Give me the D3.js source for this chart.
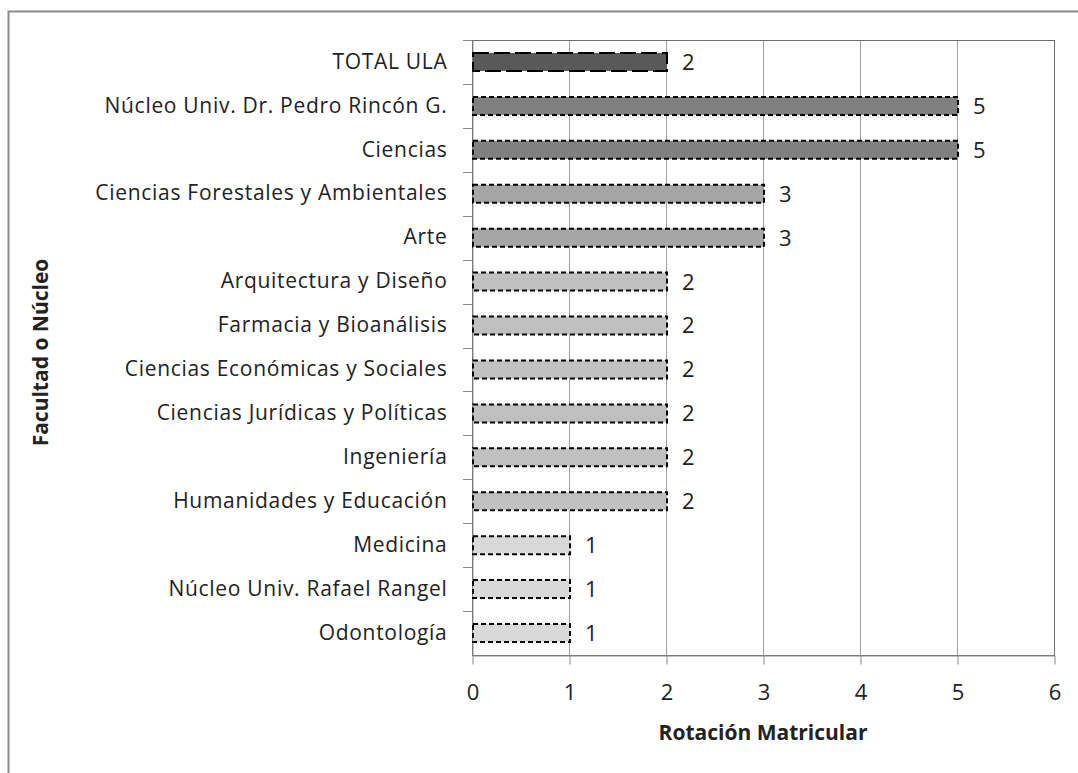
<!DOCTYPE html>
<html>
<head>
<meta charset="utf-8">
<script src="https://cdn.jsdelivr.net/npm/d3@7"></script>
<style>
  body { margin: 0; background: #fff; }
  text { font-family: "Open Sans", "Liberation Sans", sans-serif; fill: #222; }
</style>
</head>
<body>
<div class="chart"></div>
<script>
var svgWidth = 1078;
var svgHeight = 773;

// Data
var categories = [
  "TOTAL ULA",
  "Núcleo Univ. Dr. Pedro Rincón G.",
  "Ciencias",
  "Ciencias Forestales y Ambientales",
  "Arte",
  "Arquitectura y Diseño",
  "Farmacia y Bioanálisis",
  "Ciencias Económicas y Sociales",
  "Ciencias Jurídicas y Políticas",
  "Ingeniería",
  "Humanidades y Educación",
  "Medicina",
  "Núcleo Univ. Rafael Rangel",
  "Odontología"
];
var values = [2, 5, 5, 3, 3, 2, 2, 2, 2, 2, 2, 1, 1, 1];
var xTicks = [0, 1, 2, 3, 4, 5, 6];

var margin = { top: 40, right: 24, bottom: 118, left: 472 };
var width = 1054 - margin.left;
var height = 655 - margin.top;

var svg = d3.select(".chart")
  .append("svg")
  .attr("width", svgWidth)
  .attr("height", svgHeight);

// outer frame
svg.append("rect")
  .attr("x", 8.5).attr("y", 11.5)
  .attr("width", svgWidth + 10).attr("height", svgHeight + 10)
  .attr("fill", "none")
  .attr("stroke", "#8a8a8a")
  .attr("stroke-width", 2);

var chartGroup = svg.append("g")
  .attr("transform", `translate(${margin.left}, ${margin.top})`);

var xScale = d3.scaleLinear().domain([0, 6]).range([0, width]);
var yScale = d3.scaleBand().domain(categories).range([0, height]).paddingInner(0.59).paddingOuter(0.295);
var yOuter = d3.scaleBand().domain(categories).range([0, height]);

// gridlines
chartGroup.selectAll("line.grid")
  .data(xTicks.slice(1))
  .enter()
  .append("line")
  .attr("class", "grid")
  .attr("x1", d => Math.round(xScale(d)) + 0.5)
  .attr("x2", d => Math.round(xScale(d)) + 0.5)
  .attr("y1", 0)
  .attr("y2", height)
  .attr("stroke", "#a0a0a0")
  .attr("stroke-width", 1);

// plot border
chartGroup.append("rect")
  .attr("x", 0.5).attr("y", 0.5)
  .attr("width", width).attr("height", height)
  .attr("fill", "none")
  .attr("stroke", "#6e6e6e")
  .attr("stroke-width", 1);

// axes
var bottomAxis = d3.axisBottom(xScale).tickValues(xTicks).tickFormat(d3.format("d"))
  .tickSize(9).tickSizeOuter(0).tickPadding(20);
var leftAxis = d3.axisLeft(yOuter).tickSize(0).tickPadding(25);

var xAxisG = chartGroup.append("g")
  .attr("transform", `translate(0.5, ${height + 0.5})`)
  .call(bottomAxis);
xAxisG.select(".domain").attr("stroke", "#8a8a8a");
xAxisG.selectAll(".tick line").attr("stroke", "#8a8a8a");
xAxisG.selectAll(".tick text").style("font-size", "22px").attr("fill", "#333");

var yAxisG = chartGroup.append("g")
  .attr("transform", "translate(0.5, 0)")
  .call(leftAxis);
yAxisG.select(".domain").attr("stroke", "#8a8a8a");
yAxisG.selectAll(".tick text")
  .style("font-size", "21px")
  .style("letter-spacing", "0.7px")
  .attr("fill", "#222");

// y category separator ticks
chartGroup.selectAll("line.ytick")
  .data(categories)
  .enter()
  .append("line")
  .attr("class", "ytick")
  .attr("x1", -9).attr("x2", 0)
  .attr("y1", d => Math.round(yOuter(d)) + 0.5)
  .attr("y2", d => Math.round(yOuter(d)) + 0.5)
  .attr("stroke", "#8a8a8a");

// bar colors
function barColor(d, i) {
  if (i === 0) return "#595959";
  if (d === 5) return "#808080";
  if (d === 3) return "#a6a6a6";
  if (d === 2) return "#c0c0c0";
  return "#d9d9d9";
}

chartGroup.selectAll("rect.bar")
  .data(values)
  .enter()
  .append("rect")
  .attr("class", "bar")
  .attr("x", xScale(0) + 1)
  .attr("y", (d, i) => yScale(categories[i]))
  .attr("width", d => xScale(d) - xScale(0))
  .attr("height", yScale.bandwidth())
  .attr("fill", barColor)
  .attr("stroke", "#000")
  .attr("stroke-width", 2)
  .attr("stroke-dasharray", (d, i) => i === 0 ? "16,5" : "5,3");

// value labels
chartGroup.selectAll("text.val")
  .data(values)
  .enter()
  .append("text")
  .attr("class", "val")
  .attr("x", d => xScale(d) + 16)
  .attr("y", (d, i) => yScale(categories[i]) + yScale.bandwidth() / 2)
  .attr("dy", "0.36em")
  .style("font-size", "22px")
  .text(d => d);

// axis titles
svg.append("text")
  .attr("x", margin.left + width / 2)
  .attr("y", 740)
  .attr("text-anchor", "middle")
  .style("font-size", "21px")
  .style("font-weight", "bold")
  .text("Rotación Matricular");

svg.append("text")
  .attr("transform", `translate(48, ${margin.top + height / 2 + 5}) rotate(-90)`)
  .attr("text-anchor", "middle")
  .style("font-size", "21px")
  .style("font-weight", "bold")
  .text("Facultad o Núcleo");
</script>
</body>
</html>
